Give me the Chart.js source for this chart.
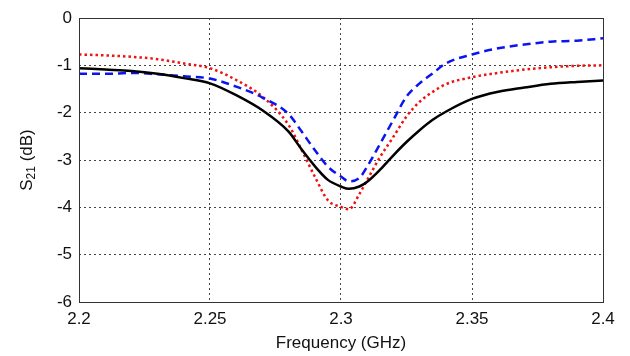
<!DOCTYPE html>
<html>
<head>
<meta charset="utf-8">
<script src="https://cdn.jsdelivr.net/npm/chart.js@4/dist/chart.umd.min.js"></script>
<style>
  html, body { margin: 0; padding: 0; background: #fff; }
  #wrap { width: 630px; height: 356px; }
</style>
</head>
<body>
<div id="wrap"><canvas id="s21Chart" width="630" height="356"></canvas></div>
<script>
// frequency points (GHz)
const freq = [2.2, 2.21, 2.22, 2.23, 2.24, 2.25, 2.26, 2.27, 2.28, 2.285, 2.29, 2.295, 2.3, 2.303,
              2.307, 2.31, 2.315, 2.32, 2.325, 2.33, 2.335, 2.34, 2.35, 2.36, 2.37, 2.38, 2.39, 2.4];

// S21 values (dB)
const solidBlack = [-1.06, -1.09, -1.12, -1.18, -1.27, -1.38, -1.63, -1.95, -2.40, -2.78, -3.13, -3.42, -3.56, -3.61,
                    -3.56, -3.46, -3.20, -2.90, -2.62, -2.37, -2.15, -1.98, -1.71, -1.56, -1.47, -1.39, -1.35, -1.32];
const dashedBlue = [-1.18, -1.18, -1.16, -1.19, -1.23, -1.28, -1.45, -1.68, -2.03, -2.40, -2.79, -3.14, -3.35, -3.45,
                    -3.38, -3.14, -2.65, -2.15, -1.66, -1.38, -1.17, -0.96, -0.77, -0.64, -0.56, -0.50, -0.48, -0.43];
const dottedRed  = [-0.77, -0.79, -0.82, -0.87, -0.96, -1.06, -1.31, -1.66, -2.26, -2.79, -3.35, -3.85, -3.99, -4.04,
                    -3.72, -3.42, -2.93, -2.51, -2.08, -1.77, -1.56, -1.40, -1.25, -1.16, -1.09, -1.04, -1.01, -1.00];

const xTicks = [2.2, 2.25, 2.3, 2.35, 2.4];
const yTicks = [0, -1, -2, -3, -4, -5, -6];

const toPoints = vals => vals.map((v, i) => ({ x: freq[i], y: v }));
const FONT = '"Liberation Sans", Arial, sans-serif';

// frame + axis titles (with subscript)
const framePlugin = {
    id: 'frame',
    afterDraw(chart) {
        const { ctx, chartArea: a } = chart;
        ctx.save();
        ctx.strokeStyle = '#333';
        ctx.lineWidth = 1;
        ctx.setLineDash([]);
        ctx.strokeRect(a.left + 0.5, a.top + 0.5, a.right - a.left, a.bottom - a.top);

        ctx.fillStyle = '#111';
        ctx.font = '17px ' + FONT;
        ctx.textAlign = 'center';
        ctx.textBaseline = 'middle';
        ctx.fillText('Frequency (GHz)', (a.left + a.right) / 2, 343);

        // y title: S21 (dB), rotated
        ctx.translate(27, (a.top + a.bottom) / 2);
        ctx.rotate(-Math.PI / 2);
        const s = 'S', sub = '21', rest = ' (dB)';
        ctx.font = '17px ' + FONT;
        const wS = ctx.measureText(s).width, wRest = ctx.measureText(rest).width;
        ctx.font = '12px ' + FONT;
        const wSub = ctx.measureText(sub).width;
        let x = -(wS + wSub + wRest) / 2;
        ctx.textAlign = 'left';
        ctx.font = '17px ' + FONT;
        ctx.fillText(s, x, 0);
        x += wS;
        ctx.font = '12px ' + FONT;
        ctx.fillText(sub, x, 5);
        x += wSub;
        ctx.font = '17px ' + FONT;
        ctx.fillText(rest, x, 0);
        ctx.restore();
    }
};

new Chart(document.getElementById('s21Chart'), {
    type: 'line',
    data: {
        datasets: [
            {
                label: 'solid',
                data: toPoints(solidBlack),
                borderColor: '#000000',
                borderWidth: 2.5,
                pointRadius: 0,
                tension: 0.4,
                cubicInterpolationMode: 'monotone'
            },
            {
                label: 'dashed',
                data: toPoints(dashedBlue),
                borderColor: '#0a14f0',
                borderWidth: 2.5,
                borderDash: [8, 5],
                pointRadius: 0,
                cubicInterpolationMode: 'monotone'
            },
            {
                label: 'dotted',
                data: toPoints(dottedRed),
                borderColor: '#f01010',
                borderWidth: 2.5,
                borderDash: [2.5, 3],
                pointRadius: 0,
                cubicInterpolationMode: 'monotone'
            }
        ]
    },
    options: {
        responsive: false,
        animation: false,
        events: [],
        layout: { padding: { top: 18, right: 27, left: 0, bottom: 0 } },
        plugins: {
            legend: { display: false },
            tooltip: { enabled: false }
        },
        scales: {
            x: {
                type: 'linear',
                min: 2.2,
                max: 2.4,
                afterBuildTicks: axis => { axis.ticks = xTicks.map(v => ({ value: v })); },
                afterFit: axis => { axis.height = 54; },
                ticks: {
                    padding: 7,
                    color: '#111',
                    font: { family: FONT, size: 17 },
                    maxRotation: 0,
                    callback: v => String(parseFloat(v.toFixed(2)))
                },
                grid: {
                    color: '#444',
                    lineWidth: 1,
                    drawTicks: false
                },
                border: { display: false, dash: [2, 3] }
            },
            y: {
                type: 'linear',
                min: -6,
                max: 0,
                afterBuildTicks: axis => { axis.ticks = yTicks.map(v => ({ value: v })); },
                afterFit: axis => { axis.width = 79; },
                ticks: {
                    padding: 7,
                    color: '#111',
                    font: { family: FONT, size: 17 },
                    callback: v => String(v)
                },
                grid: {
                    color: '#444',
                    lineWidth: 1,
                    drawTicks: false
                },
                border: { display: false, dash: [2, 3] }
            }
        }
    },
    plugins: [framePlugin]
});
</script>
</body>
</html>
